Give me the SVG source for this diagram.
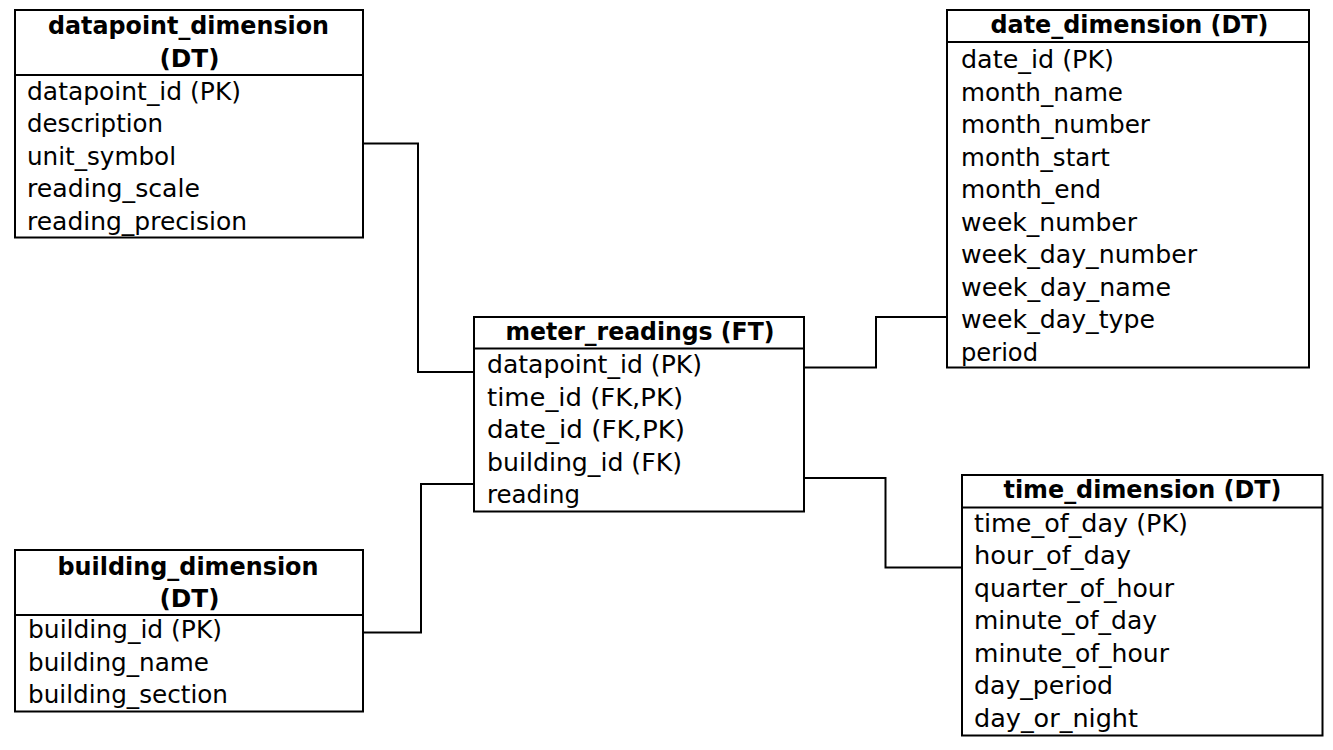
<svg xmlns="http://www.w3.org/2000/svg" width="1333" height="750" viewBox="0 0 1333 750">
  <style>
    .box { fill: #ffffff; stroke: #000000; stroke-width: 2; }
    .sep { stroke: #000000; stroke-width: 2; }
    .link { fill: none; stroke: #000000; stroke-width: 2; }
    .title { font-family: "DejaVu Sans", "Verdana", sans-serif; font-weight: bold; font-size: 24px; fill: #000000; text-anchor: middle; }
    .field { font-family: "DejaVu Sans", "Verdana", sans-serif; font-size: 24.5px; fill: #000000; }
  </style>
  <rect width="1333" height="750" fill="#ffffff"/>

  <!-- relationship lines between the fact table and the dimensions -->
  <g id="connectors">
    <polyline class="link" points="363,143.5 418,143.5 418,372 474,372"/>
    <polyline class="link" points="804,367.5 876,367.5 876,317 947,317"/>
    <polyline class="link" points="804,478 885.5,478 885.5,567.5 962,567.5"/>
    <polyline class="link" points="363,632.5 421,632.5 421,484 478.5,484"/>
  </g>

  <g id="datapoint_dimension">
    <rect class="box" x="15" y="10" width="348" height="227.5"/>
    <line class="sep" x1="15" y1="75" x2="363" y2="75"/>
    <text class="title" x="188.5" y="34" textLength="281" lengthAdjust="spacingAndGlyphs">datapoint_dimension</text>
    <text class="title" x="189.5" y="66.5" textLength="60" lengthAdjust="spacingAndGlyphs">(DT)</text>
    <text class="field" x="27" y="99.5" textLength="214" lengthAdjust="spacingAndGlyphs">datapoint_id (PK)</text>
    <text class="field" x="27" y="132" textLength="136" lengthAdjust="spacingAndGlyphs">description</text>
    <text class="field" x="27" y="164.5" textLength="149" lengthAdjust="spacingAndGlyphs">unit_symbol</text>
    <text class="field" x="27" y="197" textLength="173" lengthAdjust="spacingAndGlyphs">reading_scale</text>
    <text class="field" x="27" y="229.5" textLength="220" lengthAdjust="spacingAndGlyphs">reading_precision</text>
  </g>

  <g id="date_dimension">
    <rect class="box" x="947" y="10" width="362" height="357.5"/>
    <line class="sep" x1="947" y1="42" x2="1309" y2="42"/>
    <text class="title" x="1129.5" y="33" textLength="278" lengthAdjust="spacingAndGlyphs">date_dimension (DT)</text>
    <text class="field" x="961" y="68" textLength="153" lengthAdjust="spacingAndGlyphs">date_id (PK)</text>
    <text class="field" x="961" y="100.5" textLength="162" lengthAdjust="spacingAndGlyphs">month_name</text>
    <text class="field" x="961" y="133" textLength="189" lengthAdjust="spacingAndGlyphs">month_number</text>
    <text class="field" x="961" y="165.5" textLength="149" lengthAdjust="spacingAndGlyphs">month_start</text>
    <text class="field" x="961" y="198" textLength="140" lengthAdjust="spacingAndGlyphs">month_end</text>
    <text class="field" x="961" y="230.5" textLength="176" lengthAdjust="spacingAndGlyphs">week_number</text>
    <text class="field" x="961" y="263" textLength="236" lengthAdjust="spacingAndGlyphs">week_day_number</text>
    <text class="field" x="961" y="295.5" textLength="210" lengthAdjust="spacingAndGlyphs">week_day_name</text>
    <text class="field" x="961" y="328" textLength="194" lengthAdjust="spacingAndGlyphs">week_day_type</text>
    <text class="field" x="961" y="360.5" textLength="77" lengthAdjust="spacingAndGlyphs">period</text>
  </g>

  <g id="meter_readings">
    <rect class="box" x="474" y="317" width="330" height="194.5"/>
    <line class="sep" x1="474" y1="348.5" x2="804" y2="348.5"/>
    <text class="title" x="640" y="340" textLength="269" lengthAdjust="spacingAndGlyphs">meter_readings (FT)</text>
    <text class="field" x="487" y="373" textLength="215" lengthAdjust="spacingAndGlyphs">datapoint_id (PK)</text>
    <text class="field" x="487" y="405.5" textLength="196" lengthAdjust="spacingAndGlyphs">time_id (FK,PK)</text>
    <text class="field" x="487" y="438" textLength="198" lengthAdjust="spacingAndGlyphs">date_id (FK,PK)</text>
    <text class="field" x="487" y="470.5" textLength="195" lengthAdjust="spacingAndGlyphs">building_id (FK)</text>
    <text class="field" x="487" y="503" textLength="93" lengthAdjust="spacingAndGlyphs">reading</text>
  </g>

  <g id="building_dimension">
    <rect class="box" x="15" y="550" width="348" height="161.5"/>
    <line class="sep" x1="15" y1="615" x2="363" y2="615"/>
    <text class="title" x="188" y="574.5" textLength="261" lengthAdjust="spacingAndGlyphs">building_dimension</text>
    <text class="title" x="189.5" y="607" textLength="60" lengthAdjust="spacingAndGlyphs">(DT)</text>
    <text class="field" x="28" y="638" textLength="194" lengthAdjust="spacingAndGlyphs">building_id (PK)</text>
    <text class="field" x="28" y="670.5" textLength="181" lengthAdjust="spacingAndGlyphs">building_name</text>
    <text class="field" x="28" y="703" textLength="200" lengthAdjust="spacingAndGlyphs">building_section</text>
  </g>

  <g id="time_dimension">
    <rect class="box" x="962" y="475" width="360.5" height="260.5"/>
    <line class="sep" x1="962" y1="507.5" x2="1322.5" y2="507.5"/>
    <text class="title" x="1142.5" y="498" textLength="278" lengthAdjust="spacingAndGlyphs">time_dimension (DT)</text>
    <text class="field" x="974" y="531.5" textLength="214" lengthAdjust="spacingAndGlyphs">time_of_day (PK)</text>
    <text class="field" x="974" y="564" textLength="157" lengthAdjust="spacingAndGlyphs">hour_of_day</text>
    <text class="field" x="974" y="596.5" textLength="200" lengthAdjust="spacingAndGlyphs">quarter_of_hour</text>
    <text class="field" x="974" y="629" textLength="183" lengthAdjust="spacingAndGlyphs">minute_of_day</text>
    <text class="field" x="974" y="661.5" textLength="195" lengthAdjust="spacingAndGlyphs">minute_of_hour</text>
    <text class="field" x="974" y="694" textLength="139" lengthAdjust="spacingAndGlyphs">day_period</text>
    <text class="field" x="974" y="726.5" textLength="164" lengthAdjust="spacingAndGlyphs">day_or_night</text>
  </g>
</svg>
